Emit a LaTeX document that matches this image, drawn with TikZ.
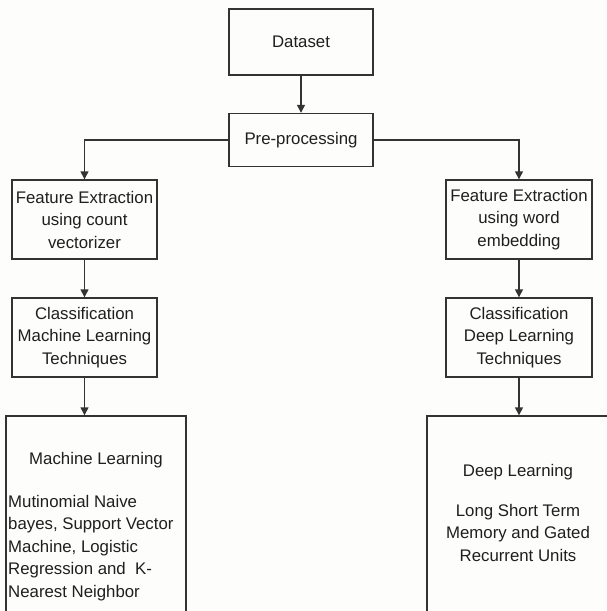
\documentclass[tikz,border=0pt]{standalone}
\usepackage{fontspec}
\setmainfont{Liberation Sans}
\usetikzlibrary{arrows.meta}
\definecolor{linegray}{HTML}{333333}
\definecolor{txtgray}{HTML}{1F1F1F}
\definecolor{bggray}{HTML}{FDFDFB}
\tikzset{
  box/.style={draw=linegray, line width=1.4pt, fill=bggray, inner sep=0pt, align=center,
    text=txtgray, font=\fontsize{16.8}{22.5}\selectfont},
  lbl/.style={inner sep=0pt, text=txtgray, font=\fontsize{16.8}{22.5}\selectfont},
  conn/.style={draw=linegray, line width=1.4pt, -{Triangle[length=8pt,width=8pt]}},
  plain/.style={draw=linegray, line width=1.4pt}
}
\begin{document}
\begin{tikzpicture}[x=1pt,y=-1pt]
\fill[bggray] (0,0) rectangle (607,611);
\useasboundingbox (0,0) rectangle (607,611);
\node[box, minimum width=144pt, minimum height=66pt] (data) at (301,42) {Dataset};
\node[box, minimum width=144pt, minimum height=53pt] (pre) at (301,140) {Pre-processing};
\node[box, minimum width=145pt, minimum height=79pt] (feL) at (84.5,219.5) {Feature Extraction\\using count\\vectorizer};
\node[box, minimum width=145pt, minimum height=79pt] (clL) at (84.5,337.5) {Classification\\Machine Learning\\Techniques};
\node[box, minimum width=146pt, minimum height=79pt] (feR) at (519,219.5) {Feature Extraction\\using word\\embedding};
\node[box, minimum width=146pt, minimum height=79pt] (clR) at (519,337.5) {Classification\\Deep Learning\\Techniques};
\node[box, minimum width=180pt, minimum height=224pt] (ml) at (96,528) {};
\node[box, minimum width=183pt, minimum height=224pt] (dl) at (518.5,528) {};
\node[lbl] (mlt) at (96,460) {Machine Learning};
\node[lbl, anchor=north west, align=left] (mll) at (8,495) {Mutinomial Naive\\bayes, Support Vector\\Machine, Logistic\\Regression and\ \ K-\\Nearest Neighbor};
\node[lbl] (dlt) at (518,472) {Deep Learning};
\node[lbl, anchor=north, align=center] (dll) at (518,504) {Long Short Term\\Memory and Gated\\Recurrent Units};
\draw[conn] (data) -- (pre);
\draw[conn] (pre.west) -| (feL.north);
\draw[conn] (pre.east) -| (feR.north);
\draw[conn] (feL) -- (clL);
\draw[conn] (feR) -- (clR);
\draw[conn] (clL.south) -- (clL.south |- ml.north);
\draw[conn] (clR.south) -- (clR.south |- dl.north);
\end{tikzpicture}
\end{document}
